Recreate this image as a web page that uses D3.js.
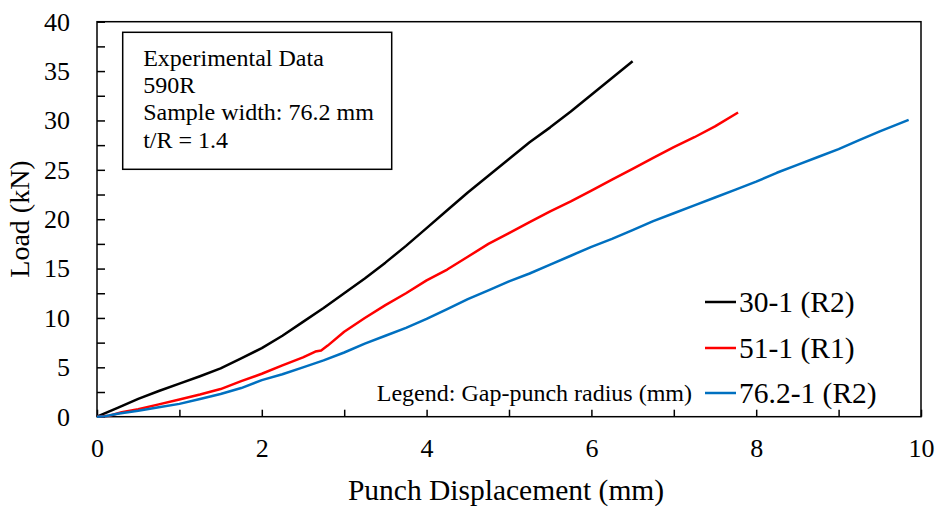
<!DOCTYPE html>
<html>
<head>
<meta charset="utf-8">
<script src="https://cdn.jsdelivr.net/npm/d3@7"></script>
<style>
  body { margin: 0; background: #fff; }
  svg text { font-family: "Liberation Serif", "Times New Roman", serif; fill: #000; }
</style>
</head>
<body>
<div id="chart"></div>
<script>
var xTicks = [0, 1, 2, 3, 4, 5, 6, 7, 8, 9, 10];
var yTicks = [0, 2.5, 5, 7.5, 10, 12.5, 15, 17.5, 20, 22.5, 25, 27.5, 30, 32.5, 35, 37.5, 40];
var seriesNames = ["30-1 (R2)", "51-1 (R1)", "76.2-1 (R2)"];
var seriesColors = ["#000000", "#ff0000", "#0070c0"];
var infoLines = ["Experimental Data", "590R", "Sample width: 76.2 mm", "t/R = 1.4"];
var legendNote = "Legend: Gap-punch radius (mm)";

var disp30 = [0, 0.25, 0.5, 0.75, 1.0, 1.25, 1.5, 1.75, 2.0, 2.25, 2.5, 2.75, 3.0, 3.25, 3.5, 3.75, 4.0, 4.25, 4.5, 4.75, 5.0, 5.25, 5.5, 5.75, 6.0, 6.25, 6.5];
var load30 = [0, 0.9, 1.8, 2.6, 3.35, 4.1, 4.9, 5.9, 6.95, 8.2, 9.6, 11.0, 12.5, 14.0, 15.6, 17.3, 19.1, 20.9, 22.7, 24.4, 26.1, 27.8, 29.3, 30.9, 32.6, 34.3, 36.0];

var disp51 = [0, 0.15, 0.3, 0.5, 0.75, 1.0, 1.25, 1.5, 1.75, 2.0, 2.25, 2.5, 2.65, 2.72, 2.8, 3.0, 3.25, 3.5, 3.75, 4.0, 4.25, 4.5, 4.75, 5.0, 5.25, 5.5, 5.75, 6.0, 6.25, 6.5, 6.75, 7.0, 7.25, 7.5, 7.78];
var load51 = [0, 0.1, 0.45, 0.75, 1.25, 1.75, 2.25, 2.8, 3.6, 4.35, 5.2, 6.0, 6.6, 6.7, 7.2, 8.6, 10.0, 11.3, 12.5, 13.8, 14.9, 16.2, 17.5, 18.6, 19.7, 20.8, 21.8, 22.9, 24.0, 25.1, 26.2, 27.3, 28.3, 29.4, 30.8];

var disp76 = [0, 0.1, 0.25, 0.5, 0.75, 1.0, 1.25, 1.5, 1.75, 2.0, 2.25, 2.5, 2.75, 3.0, 3.25, 3.5, 3.75, 4.0, 4.25, 4.5, 4.75, 5.0, 5.25, 5.5, 5.75, 6.0, 6.25, 6.5, 6.75, 7.0, 7.25, 7.5, 7.75, 8.0, 8.25, 8.5, 8.75, 9.0, 9.25, 9.5, 9.85];
var load76 = [0, 0.05, 0.3, 0.6, 0.95, 1.3, 1.8, 2.3, 2.9, 3.7, 4.3, 5.0, 5.7, 6.5, 7.4, 8.2, 9.0, 9.9, 10.9, 11.9, 12.8, 13.7, 14.5, 15.4, 16.3, 17.2, 18.0, 18.9, 19.8, 20.6, 21.4, 22.2, 23.0, 23.8, 24.7, 25.5, 26.3, 27.1, 28.0, 28.9, 30.05];

var seriesDisp = [disp30, disp51, disp76];
var seriesLoad = [load30, load51, load76];

var width = 937, height = 507;
var margin = {top: 21.7, right: 16, bottom: 90.3, left: 97};
var plotW = width - margin.left - margin.right;
var plotH = height - margin.top - margin.bottom;

var svg = d3.select("#chart")
    .append("svg")
    .attr("width", width)
    .attr("height", height);

var g = svg.append("g")
    .attr("transform", "translate(" + margin.left + "," + margin.top + ")");

var x = d3.scaleLinear().domain([0, 10]).range([0, plotW]);
var y = d3.scaleLinear().domain([0, 40]).range([plotH, 0]);

// x axis, ticks pointing inward, labels on even values
var xAxis = g.append("g")
    .attr("transform", "translate(0," + plotH + ")")
    .call(d3.axisBottom(x)
        .tickValues(xTicks)
        .tickSize(-7)
        .tickSizeOuter(0)
        .tickPadding(22)
        .tickFormat(function(d) { return d % 2 === 0 ? d : ""; }));
xAxis.select(".domain").remove();
xAxis.selectAll("line").attr("stroke", "#000").attr("stroke-width", 1.5);
xAxis.selectAll("text").attr("font-size", "26px").attr("font-family", "Liberation Serif");

var yAxis = g.append("g")
    .call(d3.axisLeft(y)
        .tickValues(yTicks)
        .tickSize(-8)
        .tickSizeOuter(0)
        .tickPadding(27)
        .tickFormat(function(d) { return d % 5 === 0 ? d : ""; }));
yAxis.select(".domain").remove();
yAxis.selectAll("line").attr("stroke", "#000").attr("stroke-width", 1.5);
yAxis.selectAll("text").attr("font-size", "26px").attr("font-family", "Liberation Serif");

// plot frame
g.append("rect")
    .attr("x", 0)
    .attr("y", 0)
    .attr("width", plotW)
    .attr("height", plotH)
    .attr("fill", "none")
    .attr("stroke", "#000")
    .attr("stroke-width", 1.5);

// curves
var line = d3.line()
    .x(function(d) { return x(d[0]); })
    .y(function(d) { return y(d[1]); });

seriesNames.forEach(function(name, i) {
    var pts = seriesDisp[i].map(function(v, j) { return [v, seriesLoad[i][j]]; });
    g.append("path")
        .datum(pts)
        .attr("fill", "none")
        .attr("stroke", seriesColors[i])
        .attr("stroke-width", 2.5)
        .attr("stroke-linejoin", "round")
        .attr("d", line);
});

// info box
var box = svg.append("g").attr("transform", "translate(122.7,32.3)");
box.append("rect")
    .attr("width", 269)
    .attr("height", 137)
    .attr("fill", "#fff")
    .attr("stroke", "#000")
    .attr("stroke-width", 1.5);
box.selectAll("text")
    .data(infoLines)
    .join("text")
    .attr("x", 20.5)
    .attr("y", function(d, i) { return 33.4 + i * 27.4; })
    .attr("font-size", "24px")
    .text(function(d) { return d; });

// legend
var legendY = [302, 348, 393];
var legend = svg.append("g");
seriesNames.forEach(function(name, i) {
    legend.append("line")
        .attr("x1", 705).attr("x2", 736)
        .attr("y1", legendY[i]).attr("y2", legendY[i])
        .attr("stroke", seriesColors[i])
        .attr("stroke-width", 2.5);
    legend.append("text")
        .attr("x", 739)
        .attr("y", legendY[i])
        .attr("dy", "0.35em")
        .attr("font-size", "29.5px")
        .text(name);
});
legend.append("text")
    .attr("x", 692)
    .attr("y", legendY[2])
    .attr("dy", "0.35em")
    .attr("text-anchor", "end")
    .attr("font-size", "24px")
    .text(legendNote);

// axis titles
svg.append("text")
    .attr("x", 506)
    .attr("y", 500)
    .attr("text-anchor", "middle")
    .attr("font-size", "29.5px")
    .text("Punch Displacement (mm)");

svg.append("text")
    .attr("transform", "translate(29,219) rotate(-90)")
    .attr("text-anchor", "middle")
    .attr("font-size", "28px")
    .text("Load (kN)");
</script>
</body>
</html>
